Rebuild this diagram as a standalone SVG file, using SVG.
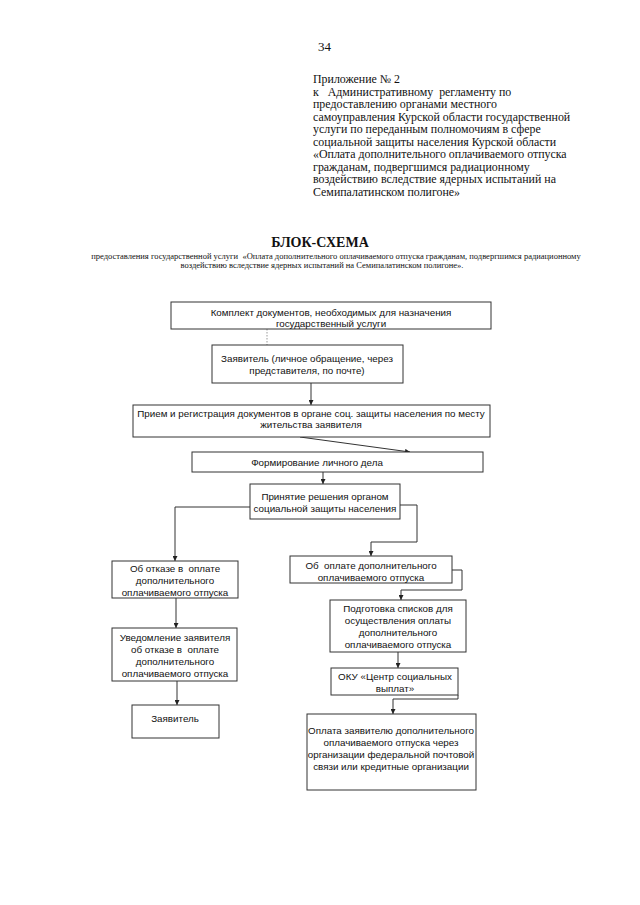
<svg xmlns="http://www.w3.org/2000/svg" width="640" height="905" viewBox="0 0 640 905">
<defs>
<style>
.hdr{font-family:"Liberation Serif","Times New Roman",serif;font-size:11.9px;fill:#111;white-space:pre}
.ttl{font-family:"Liberation Serif","Times New Roman",serif;font-size:14px;font-weight:bold;fill:#111;text-anchor:middle}
.sub{font-family:"Liberation Serif","Times New Roman",serif;font-size:8.5px;fill:#111;text-anchor:middle;white-space:pre}
.box{fill:#fff;stroke:#333;stroke-width:1}
.t{font-family:"Liberation Sans",Arial,sans-serif;font-size:9.8px;fill:#111;text-anchor:middle;white-space:pre}
.ln{fill:none;stroke:#333;stroke-width:1}
</style>
<marker id="ah" viewBox="0 0 8 8" refX="8" refY="4" markerWidth="5" markerHeight="5" orient="auto" markerUnits="userSpaceOnUse">
<path d="M0,0 L8,4 L0,8 z" fill="#222"/>
</marker>
</defs>
<rect width="640" height="905" fill="#fff"/>
<g id="header">
<text x="318" y="51" class="hdr" style="font-size:13px">34</text>
<text class="hdr" x="313">
<tspan x="313" y="83">Приложение № 2</tspan>
<tspan x="313" y="95.5">к   Административному  регламенту по</tspan>
<tspan x="313" y="108">предоставлению органами местного</tspan>
<tspan x="313" y="120.5">самоуправления Курской области государственной</tspan>
<tspan x="313" y="133">услуги по переданным полномочиям в сфере</tspan>
<tspan x="313" y="145.5">социальной защиты населения Курской области</tspan>
<tspan x="313" y="158">«Оплата дополнительного оплачиваемого отпуска</tspan>
<tspan x="313" y="170.5">гражданам, подвергшимся радиационному</tspan>
<tspan x="313" y="183">воздействию вследствие ядерных испытаний на</tspan>
<tspan x="313" y="195.5">Семипалатинском полигоне»</tspan>
</text>
</g>
<g id="title">
<text x="320" y="247" class="ttl">БЛОК-СХЕМА</text>
<text x="336" y="259" class="sub">предоставления государственной услуги  «Оплата дополнительного оплачиваемого отпуска гражданам, подвергшимся радиационному</text>
<text x="322" y="268" class="sub">воздействию вследствие ядерных испытаний на Семипалатинском полигоне».</text>
</g>
<g id="connectors">
<path class="ln" d="M267,329 L267,345" stroke-dasharray="1.5,1.5" style="stroke:#999"/>
<path class="ln" d="M311,383 L311,405" marker-end="url(#ah)"/>
<path class="ln" d="M300,437 L410,452" marker-end="url(#ah)"/>
<path class="ln" d="M323,472 L323,484" marker-end="url(#ah)"/>
<path class="ln" d="M250,507 L175,507 L175,561" marker-end="url(#ah)"/>
<path class="ln" d="M400,505 L417,505 L417,542 L371,542 L371,556" marker-end="url(#ah)"/>
<path class="ln" d="M176,598 L176,628" marker-end="url(#ah)"/>
<path class="ln" d="M177,681 L177,705" marker-end="url(#ah)"/>
<path class="ln" d="M452,570 L462,570 L462,590 L401,590 L401,600" marker-end="url(#ah)"/>
<path class="ln" d="M398,652 L398,668" marker-end="url(#ah)"/>
<path class="ln" d="M458,695 L458,699 L393,699 L393,714" marker-end="url(#ah)"/>
</g>
<g id="n1">
<rect class="box" x="171" y="302" width="320" height="27"/>
<text class="t" x="331" y="316">Комплект документов, необходимых для назначения</text>
<text class="t" x="331" y="327">государственный услуги</text>
</g>
<g id="n2">
<rect class="box" x="212" y="345" width="191" height="38"/>
<text class="t" x="307" y="362">Заявитель (личное обращение, через</text>
<text class="t" x="307" y="374">представителя, по почте)</text>
</g>
<g id="n3">
<rect class="box" x="133" y="405" width="357" height="32"/>
<text class="t" x="311" y="417">Прием и регистрация документов в органе соц. защиты населения по месту</text>
<text class="t" x="311" y="428">жительства заявителя</text>
</g>
<g id="n4">
<rect class="box" x="192" y="452" width="291" height="20"/>
<text class="t" x="317" y="466">Формирование личного дела</text>
</g>
<g id="n5">
<rect class="box" x="250" y="484" width="150" height="35"/>
<text class="t" x="325" y="500">Принятие решения органом</text>
<text class="t" x="325" y="512">социальной защиты населения</text>
</g>
<g id="n6">
<rect class="box" x="112" y="561" width="126" height="37"/>
<text class="t" x="175" y="572">Об отказе в  оплате</text>
<text class="t" x="175" y="584">дополнительного</text>
<text class="t" x="175" y="596">оплачиваемого отпуска</text>
</g>
<g id="n7">
<rect class="box" x="290" y="556" width="162" height="27"/>
<text class="t" x="371" y="569">Об  оплате дополнительного</text>
<text class="t" x="371" y="581">оплачиваемого отпуска</text>
</g>
<g id="n8">
<rect class="box" x="330" y="600" width="136" height="52"/>
<text class="t" x="398" y="612">Подготовка списков для</text>
<text class="t" x="398" y="624">осуществления оплаты</text>
<text class="t" x="398" y="636">дополнительного</text>
<text class="t" x="398" y="648">оплачиваемого отпуска</text>
</g>
<g id="n9">
<rect class="box" x="112" y="628" width="125" height="53"/>
<text class="t" x="175" y="641">Уведомление заявителя</text>
<text class="t" x="175" y="653">об отказе в  оплате</text>
<text class="t" x="175" y="665">дополнительного</text>
<text class="t" x="175" y="677">оплачиваемого отпуска</text>
</g>
<g id="n10">
<rect class="box" x="331" y="668" width="127" height="27"/>
<text class="t" x="395" y="680">ОКУ «Центр социальных</text>
<text class="t" x="395" y="692">выплат»</text>
</g>
<g id="n11">
<rect class="box" x="132" y="705" width="87" height="33"/>
<text class="t" x="175" y="722">Заявитель</text>
</g>
<g id="n12">
<rect class="box" x="307" y="714" width="169" height="76"/>
<text class="t" x="391" y="734">Оплата заявителю дополнительного</text>
<text class="t" x="391" y="746">оплачиваемого отпуска через</text>
<text class="t" x="391" y="758">организации федеральной почтовой</text>
<text class="t" x="391" y="770">связи или кредитные организации</text>
</g>
</svg>
